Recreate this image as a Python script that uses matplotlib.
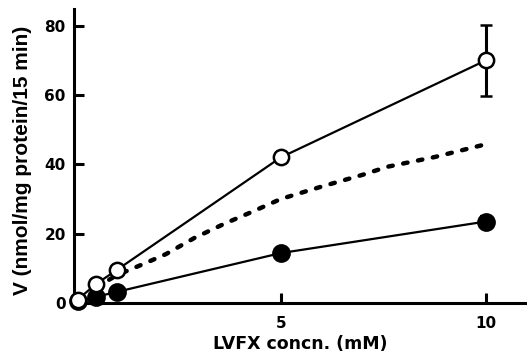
import matplotlib
matplotlib.use("Agg")
import matplotlib.pyplot as plt

plt.rcParams['font.family'] = ['DejaVu Sans']
plt.rcParams['font.weight'] = 'bold'

# Data
conc = [0.05, 0.5, 1, 5, 10]
open_v = [1.0, 5.5, 9.5, 42.0, 70.0]
open_err = [0, 0, 0, 0, 10.3]
filled_v = [0.5, 1.8, 3.2, 14.4, 23.5]
filled_err = [0, 0, 0, 0, 1.5]

dash_x = [0.5, 1, 1.7, 2.2, 2.9, 3.65, 4.3, 5, 6, 7, 7.6, 8.75, 10]
dash_y = [4.5, 8.0, 11.5, 14.1, 18.8, 23.0, 26.3, 30.0, 33.6, 37.0, 39.3, 42.1, 45.8]

xticks = [5, 10]
yticks = [0, 20, 40, 60, 80]

fig = plt.figure(figsize=(5.27, 3.55), dpi=100)
ax = fig.add_axes([74/527, 1-303/355, (527-74)/527, (303-9)/355])

ax.plot(dash_x, dash_y, color='black', lw=3.2, linestyle=(0, (1.0, 2.4)),
        dash_capstyle='round', zorder=2)

ax.errorbar(conc, filled_v, yerr=filled_err, color='black', lw=1.6,
            marker='o', ms=12, mfc='black', mec='black', mew=1.5,
            capsize=4, elinewidth=1.6, capthick=1.6, zorder=3)
ax.errorbar(conc, open_v, yerr=open_err, color='black', lw=1.6,
            marker='o', ms=11, mfc='white', mec='black', mew=1.8,
            capsize=4.3, elinewidth=2.2, capthick=2.2, zorder=4)

ax.set_xlim(-0.04, 11.0)
ax.set_ylim(0, 84.8)
ax.set_xticks(xticks)
ax.set_yticks(yticks)
for s in ['top', 'right']:
    ax.spines[s].set_visible(False)
for s in ['left', 'bottom']:
    ax.spines[s].set_linewidth(2.2)
ax.tick_params(axis='both', direction='in', length=7, width=2.2,
               labelsize=11)
ax.tick_params(axis='y', pad=6)
ax.tick_params(axis='x', pad=9)
for lab in ax.get_xticklabels() + ax.get_yticklabels():
    lab.set_fontweight('bold')

ax.set_xlabel('LVFX concn. (mM)', fontsize=12.5, fontweight='bold')
ax.xaxis.set_label_coords(0.5, -0.17)
ax.xaxis.label.set_va('bottom')
ax.set_ylabel('V (nmol/mg protein/15 min)', fontsize=15, fontweight='bold',
              family=['Liberation Sans', 'DejaVu Sans'])
ax.yaxis.set_label_coords(-0.113, 0.486)
ax.yaxis.label.set_va('center')
for line in ax.lines:
    line.set_clip_on(False)

fig.savefig('out.png', dpi=100)
